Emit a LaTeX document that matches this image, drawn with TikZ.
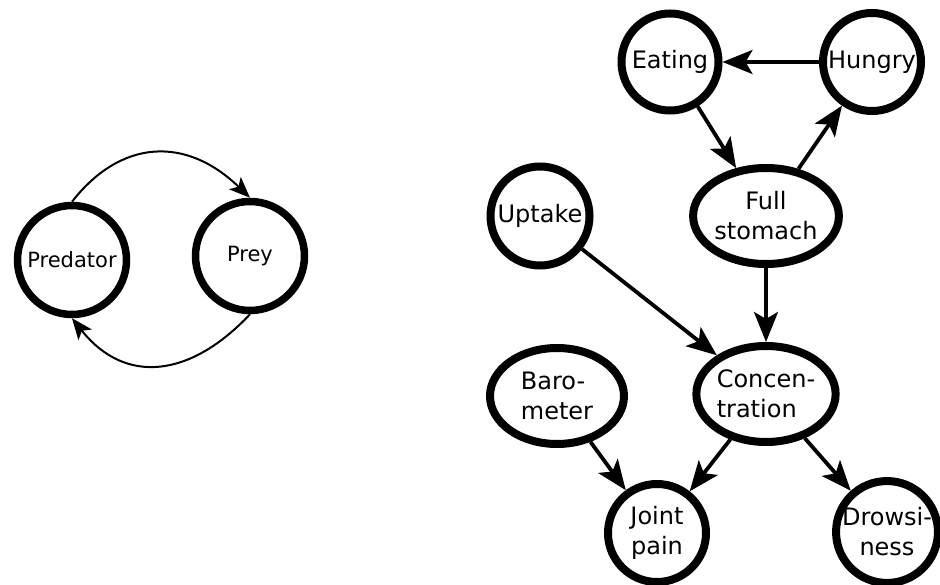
\documentclass[tikz,border=0pt]{standalone}
\usepackage{fontspec}
\setmainfont{DejaVu Sans}
\usetikzlibrary{shapes.geometric,arrows.meta}
\begin{document}
\begin{tikzpicture}[x=1pt,y=-1pt,
  circ/.style={circle,draw,line width=8pt,inner sep=0pt,minimum size=#1,font=\fontsize{24}{30}\selectfont,align=center},
  ell/.style={ellipse,draw,line width=8pt,inner sep=0pt,minimum width=134pt,minimum height=96pt,font=\fontsize{24}{30}\selectfont,align=center},
  lcirc/.style={circle,draw,line width=7.5pt,inner sep=0pt,minimum size=109pt,font=\fontsize{21}{25}\selectfont},
  arr/.style={line width=3.8pt,-{Stealth[length=30pt,width=24pt,inset=7pt]}},
  thin/.style={line width=2pt,-{Stealth[length=21pt,width=17pt,inset=5pt]}}]
\useasboundingbox (0,0) rectangle (940,585);
% left graph
\node[lcirc] (pred) at (72,260) {Predator};
\node[lcirc] (prey) at (250,256) {\raisebox{3pt}{Prey}};
\draw[thin] (pred.north) .. controls (120,140) and (185,135) .. (prey.north);
\draw[thin] (prey.south) .. controls (190,378) and (125,385) .. (pred.south);
% right graph
\node[circ=97pt] (eat) at (670,62) {Eating};
\node[circ=98pt] (hun) at (872,62) {Hungry};
\node[ell] (full) at (766,216) {Full\\stomach};
\node[circ=99pt] (upt) at (540,216) {Uptake};
\node[ell,align=left] (conc) at (766,394) {Concen-\\tration};
\node[ell,align=left] (baro) at (557,396) {Baro-\\meter};
\node[circ=98pt] (joint) at (657,533) {Joint\\pain};
\node[circ=97pt] (drow) at (887,532) {Drowsi-\\ness};
\draw[arr] (hun) -- (eat);
\draw[arr] (eat) -- (full);
\draw[arr] (full) -- (hun);
\draw[arr] (full) -- (conc);
\draw[arr] (upt) -- (conc);
\draw[arr] (baro) -- (joint);
\draw[arr] (conc) -- (joint);
\draw[arr] (conc) -- (drow);
\end{tikzpicture}
\end{document}
